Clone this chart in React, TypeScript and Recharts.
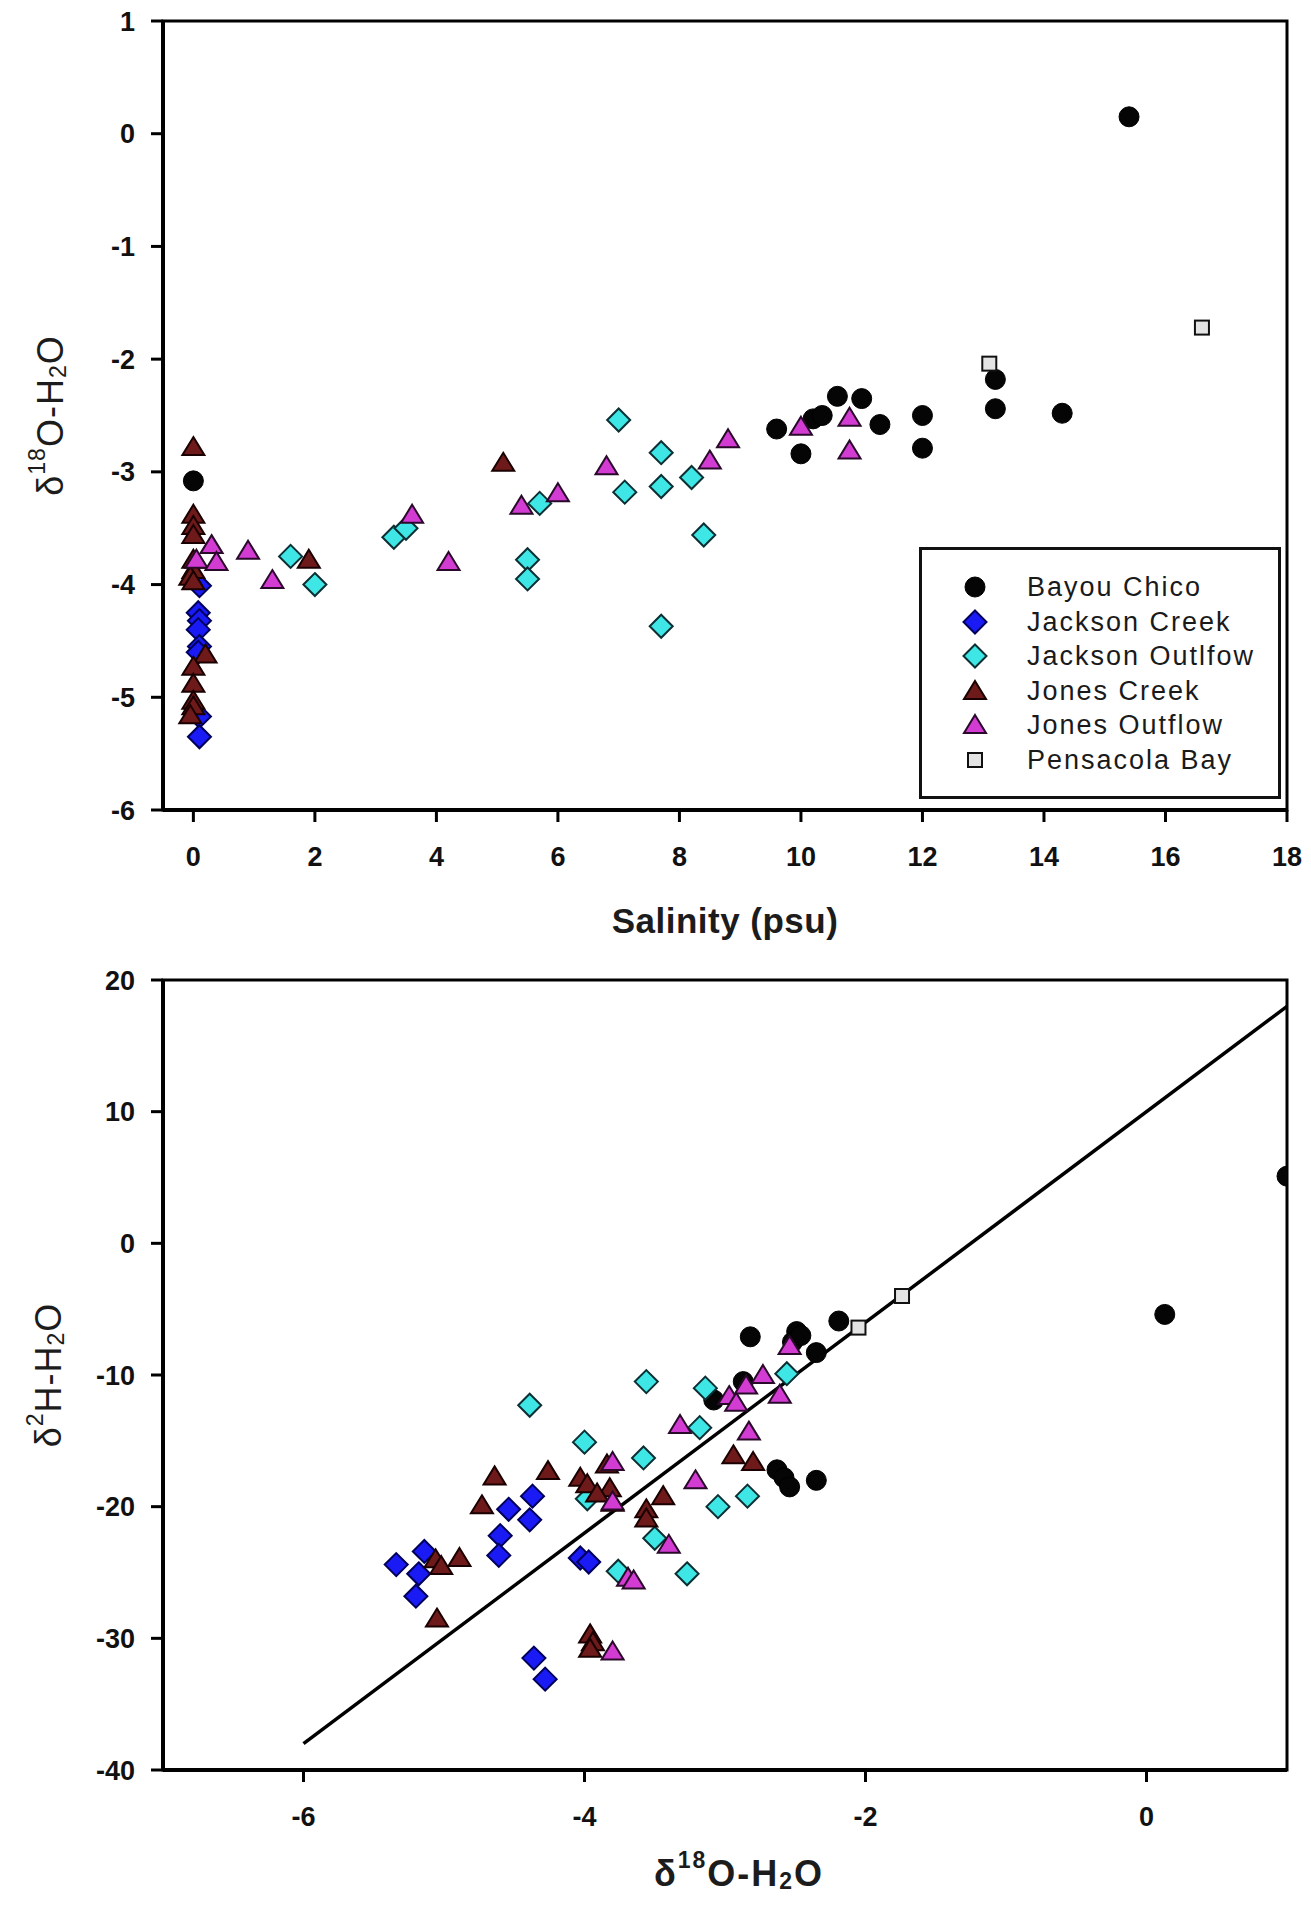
import { ScatterChart, Scatter, XAxis, YAxis, ReferenceArea, ReferenceLine, Legend } from 'recharts';

const FONT = '"Liberation Sans", Arial, Helvetica, sans-serif';

// ---- top panel: salinity (psu) vs d18O ----
const salinityTicks = [0, 2, 4, 6, 8, 10, 12, 14, 16, 18];
const o18TicksTop = [-6, -5, -4, -3, -2, -1, 0, 1];

const bayouChicoSal: [number, number][] = [
  [0, -3.08], [9.6, -2.62], [10.0, -2.84], [10.2, -2.53], [10.35, -2.5], [10.6, -2.33], [11.0, -2.35],
  [11.3, -2.58], [12.0, -2.5], [12.0, -2.79], [13.2, -2.18], [13.2, -2.44], [14.3, -2.48], [15.4, 0.15],
];
const jacksonCreekSal: [number, number][] = [
  [0.1, -4.01], [0.08, -4.25], [0.1, -4.32], [0.08, -4.4], [0.1, -4.55], [0.08, -4.6], [0.1, -5.17], [0.1, -5.35],
];
const jacksonOutflowSal: [number, number][] = [
  [1.6, -3.75], [2.0, -4.0], [3.3, -3.58], [3.5, -3.5], [5.5, -3.78], [5.5, -3.95], [5.7, -3.28],
  [7.0, -2.54], [7.1, -3.18], [7.7, -2.83], [7.7, -3.13], [8.2, -3.05], [8.4, -3.56], [7.7, -4.37],
];
const jonesCreekSal: [number, number][] = [
  [0, -2.78], [0, -3.38], [0, -3.48], [0, -3.56], [0, -3.78], [0, -3.87], [-0.05, -3.93], [0, -3.97],
  [0.2, -4.62], [0, -4.73], [0, -4.88], [0, -5.03], [0, -5.08], [-0.05, -5.16], [1.9, -3.78], [5.1, -2.92],
];
const jonesOutflowSal: [number, number][] = [
  [0.05, -3.78], [0.3, -3.65], [0.38, -3.8], [0.9, -3.7], [1.3, -3.96], [3.6, -3.38], [4.2, -3.8], [5.4, -3.3],
  [6.0, -3.19], [6.8, -2.95], [8.5, -2.9], [8.8, -2.71], [10.0, -2.6], [10.8, -2.52], [10.8, -2.81],
];
const pensacolaBaySal: [number, number][] = [[13.1, -2.04], [16.6, -1.72]];

// ---- bottom panel: d18O vs d2H ----
const o18TicksBottom = [-6, -4, -2, 0];
const h2Ticks = [-40, -30, -20, -10, 0, 10, 20];

const bayouChicoIso: [number, number][] = [
  [-3.08, -11.9], [-2.87, -10.5], [-2.82, -7.1], [-2.49, -6.7], [-2.52, -7.5], [-2.46, -7.0], [-2.35, -8.3],
  [-2.19, -5.9], [-2.63, -17.2], [-2.58, -17.8], [-2.54, -18.5], [-2.35, -18.0], [0.13, -5.4], [1.0, 5.1],
];
const jacksonCreekIso: [number, number][] = [
  [-5.34, -24.4], [-5.14, -23.4], [-5.18, -25.1], [-5.2, -26.8], [-4.54, -20.2], [-4.37, -19.2], [-4.39, -21.0],
  [-4.6, -22.2], [-4.61, -23.7], [-4.03, -23.9], [-3.97, -24.2], [-4.36, -31.5], [-4.28, -33.1],
];
const jacksonOutflowIso: [number, number][] = [
  [-4.39, -12.3], [-4.0, -15.1], [-3.56, -10.5], [-3.58, -16.3], [-3.14, -11.0], [-3.18, -14.0], [-3.98, -19.4],
  [-3.5, -22.4], [-3.76, -24.9], [-3.27, -25.1], [-3.05, -20.0], [-2.84, -19.2], [-2.56, -9.9],
];
const jonesCreekIso: [number, number][] = [
  [-4.64, -17.7], [-4.73, -19.9], [-4.26, -17.3], [-5.06, -24.0], [-5.02, -24.5], [-4.89, -23.9], [-5.05, -28.5],
  [-4.03, -17.8], [-3.98, -18.3], [-3.84, -16.8], [-3.82, -18.6], [-3.91, -19.0], [-3.8, -19.7], [-3.56, -20.2],
  [-3.56, -20.9], [-3.44, -19.2], [-2.94, -16.1], [-2.8, -16.6], [-3.96, -29.7], [-3.94, -30.3], [-3.96, -30.8],
];
const jonesOutflowIso: [number, number][] = [
  [-3.32, -13.8], [-3.21, -18.0], [-2.83, -14.3], [-3.4, -22.9], [-3.69, -25.4], [-3.65, -25.6], [-3.8, -31.0],
  [-3.8, -16.6], [-3.8, -19.6], [-2.97, -11.6], [-2.92, -12.1], [-2.85, -10.8], [-2.73, -10.0], [-2.61, -11.5],
  [-2.54, -7.8],
];
const pensacolaBayIso: [number, number][] = [[-2.05, -6.4], [-1.74, -4.0]];

// meteoric water line end points
const mwlX = [-6, 1];
const mwlY = [-38, 18];

const seriesNames = ['Bayou Chico', 'Jackson Creek', 'Jackson Outlfow', 'Jones Creek', 'Jones Outflow', 'Pensacola Bay'];

type Kind = 'circle' | 'diamond' | 'triangle' | 'square';
const styles: { kind: Kind; fill: string; stroke: string }[] = [
  { kind: 'circle', fill: '#050505', stroke: '#000' },
  { kind: 'diamond', fill: '#1a1af5', stroke: '#00005a' },
  { kind: 'diamond', fill: '#3fe6e6', stroke: '#0b2f33' },
  { kind: 'triangle', fill: '#6e1a1a', stroke: '#1a0000' },
  { kind: 'triangle', fill: '#d23cd2', stroke: '#2a0a2a' },
  { kind: 'square', fill: '#e4e4e4', stroke: '#111' },
];

const toPts = (arr: [number, number][]) => arr.map(([x, y]) => ({ x, y }));
const topSets = [bayouChicoSal, jacksonCreekSal, jacksonOutflowSal, jonesCreekSal, jonesOutflowSal, pensacolaBaySal];
const bottomSets = [bayouChicoIso, jacksonCreekIso, jacksonOutflowIso, jonesCreekIso, jonesOutflowIso, pensacolaBayIso];

const Marker = ({ cx, cy, kind, fill, stroke }: { cx: number; cy: number; kind: Kind; fill: string; stroke: string }) => {
  if (cx == null || cy == null) return <g />;
  if (kind === 'circle') return <circle cx={cx} cy={cy} r={10} fill={fill} stroke={stroke} strokeWidth={1} />;
  if (kind === 'diamond') {
    const h = 11.5;
    return <polygon points={`${cx},${cy - h} ${cx + h},${cy} ${cx},${cy + h} ${cx - h},${cy}`} fill={fill} stroke={stroke} strokeWidth={2} />;
  }
  if (kind === 'triangle') {
    return <polygon points={`${cx},${cy - 10} ${cx + 11},${cy + 8} ${cx - 11},${cy + 8}`} fill={fill} stroke={stroke} strokeWidth={2} />;
  }
  return <rect x={cx - 7} y={cy - 7} width={14} height={14} fill={fill} stroke={stroke} strokeWidth={2} />;
};

const tickStyle = { fill: '#111', fontSize: 27, fontWeight: 700, fontFamily: FONT };
const axisLine = { stroke: '#000', strokeWidth: 4 };
const tickLine = { stroke: '#000', strokeWidth: 3 };

const Delta = ({ x, y, sup, rotate, bold }: { x: number; y: number; sup: string; rotate?: boolean; bold?: boolean }) => (
  <text
    x={x}
    y={y}
    textAnchor="middle"
    dominantBaseline="central"
    fontFamily={FONT}
    fontSize={36}
    fontWeight={bold ? 700 : 400}
    letterSpacing={bold ? 2 : 1}
    fill="#1c1c1c"
    transform={rotate ? `rotate(-90, ${x}, ${y})` : undefined}
  >
    δ<tspan dy={-13} fontSize={23}>{sup}</tspan>
    <tspan dy={13}>{sup === '2' ? 'H-H' : 'O-H'}</tspan>
    <tspan dy={8} fontSize={23}>2</tspan>
    <tspan dy={-8}>O</tspan>
  </text>
);

const TopXTitle = (p: any) => {
  const vb = p.viewBox || { x: 163, y: 810, width: 1124 };
  return (
    <text x={vb.x + vb.width / 2} y={vb.y + 110} textAnchor="middle" dominantBaseline="central" fontFamily={FONT} fontSize={35} fontWeight={700} fill="#1c1c1c" letterSpacing={0.5}>
      Salinity (psu)
    </text>
  );
};
const TopYTitle = (p: any) => {
  const vb = p.viewBox || { x: 0, y: 21, height: 789 };
  return <Delta x={vb.x + 50} y={vb.y + vb.height / 2} sup="18" rotate />;
};
const BottomXTitle = (p: any) => {
  const vb = p.viewBox || { x: 163, y: 830, width: 1124 };
  return <Delta x={vb.x + vb.width / 2 + 14} y={vb.y + 103} sup="18" bold />;
};
const BottomYTitle = (p: any) => {
  const vb = p.viewBox || { x: 0, y: 40, height: 790 };
  return <Delta x={vb.x + 48} y={vb.y + vb.height / 2} sup="2" rotate />;
};

const LegendBox = () => (
  <div
    style={{
      boxSizing: 'border-box',
      width: 362,
      height: 252,
      border: '3px solid #111',
      background: '#fff',
      paddingTop: 20,
      fontFamily: FONT,
      fontSize: 27,
      color: '#1a1a1a',
      letterSpacing: 2,
    }}
  >
    {seriesNames.map((name, i) => (
      <div key={name} style={{ display: 'flex', alignItems: 'center', height: 34.5 }}>
        <svg width={30} height={30} style={{ marginLeft: 38, flex: 'none' }}>
          <Marker cx={15} cy={15} kind={styles[i].kind} fill={styles[i].fill} stroke={styles[i].stroke} />
        </svg>
        <span style={{ marginLeft: 37, whiteSpace: 'nowrap', lineHeight: '34px' }}>{name}</span>
      </div>
    ))}
  </div>
);

const renderSeries = (sets: [number, number][][]) =>
  sets.map((set, i) => (
    <Scatter
      key={seriesNames[i]}
      name={seriesNames[i]}
      data={toPts(set)}
      isAnimationActive={false}
      shape={(p: any) => <Marker cx={p.cx} cy={p.cy} kind={styles[i].kind} fill={styles[i].fill} stroke={styles[i].stroke} />}
    />
  ));

export default function App() {
  return (
    <div style={{ position: 'absolute', left: 0, top: 0, width: 1311, height: 1920, background: '#fff' }}>
      <div style={{ position: 'absolute', left: 0, top: 0 }}>
        <ScatterChart width={1311} height={940} margin={{ top: 21, right: 24, bottom: 50, left: 0 }}>
          <XAxis
            type="number"
            dataKey="x"
            domain={[-0.5, 18]}
            ticks={salinityTicks}
            allowDataOverflow
            height={80}
            axisLine={axisLine}
            tickLine={tickLine}
            tickSize={12}
            tickMargin={25}
            tick={tickStyle}
            label={<TopXTitle />}
          />
          <YAxis
            type="number"
            dataKey="y"
            domain={[-6, 1]}
            ticks={o18TicksTop}
            allowDataOverflow
            width={163}
            axisLine={axisLine}
            tickLine={tickLine}
            tickSize={12}
            tickMargin={16}
            tick={tickStyle}
            label={<TopYTitle />}
          />
          <ReferenceArea x1={-0.5} x2={18} y1={-6} y2={1} fill="none" stroke="#000" strokeWidth={3} />
          {renderSeries(topSets)}
          <Legend
            layout="horizontal"
            verticalAlign="middle"
            align="center"
            content={() => <LegendBox />}
            wrapperStyle={{ left: 919, top: 547, width: 362, height: 252 }}
          />
        </ScatterChart>
      </div>
      <div style={{ position: 'absolute', left: 0, top: 940 }}>
        <ScatterChart width={1311} height={980} margin={{ top: 40, right: 24, bottom: 70, left: 0 }}>
          <XAxis
            type="number"
            dataKey="x"
            domain={[-7, 1]}
            ticks={o18TicksBottom}
            allowDataOverflow
            height={80}
            axisLine={axisLine}
            tickLine={tickLine}
            tickSize={12}
            tickMargin={25}
            tick={tickStyle}
            label={<BottomXTitle />}
          />
          <YAxis
            type="number"
            dataKey="y"
            domain={[-40, 20]}
            ticks={h2Ticks}
            allowDataOverflow
            width={163}
            axisLine={axisLine}
            tickLine={tickLine}
            tickSize={12}
            tickMargin={16}
            tick={tickStyle}
            label={<BottomYTitle />}
          />
          <ReferenceArea x1={-7} x2={1} y1={-40} y2={20} fill="none" stroke="#000" strokeWidth={3} />
          <ReferenceLine
            segment={[
              { x: mwlX[0], y: mwlY[0] },
              { x: mwlX[1], y: mwlY[1] },
            ]}
            stroke="#000"
            strokeWidth={3.5}
          />
          {renderSeries(bottomSets)}
        </ScatterChart>
      </div>
    </div>
  );
}
